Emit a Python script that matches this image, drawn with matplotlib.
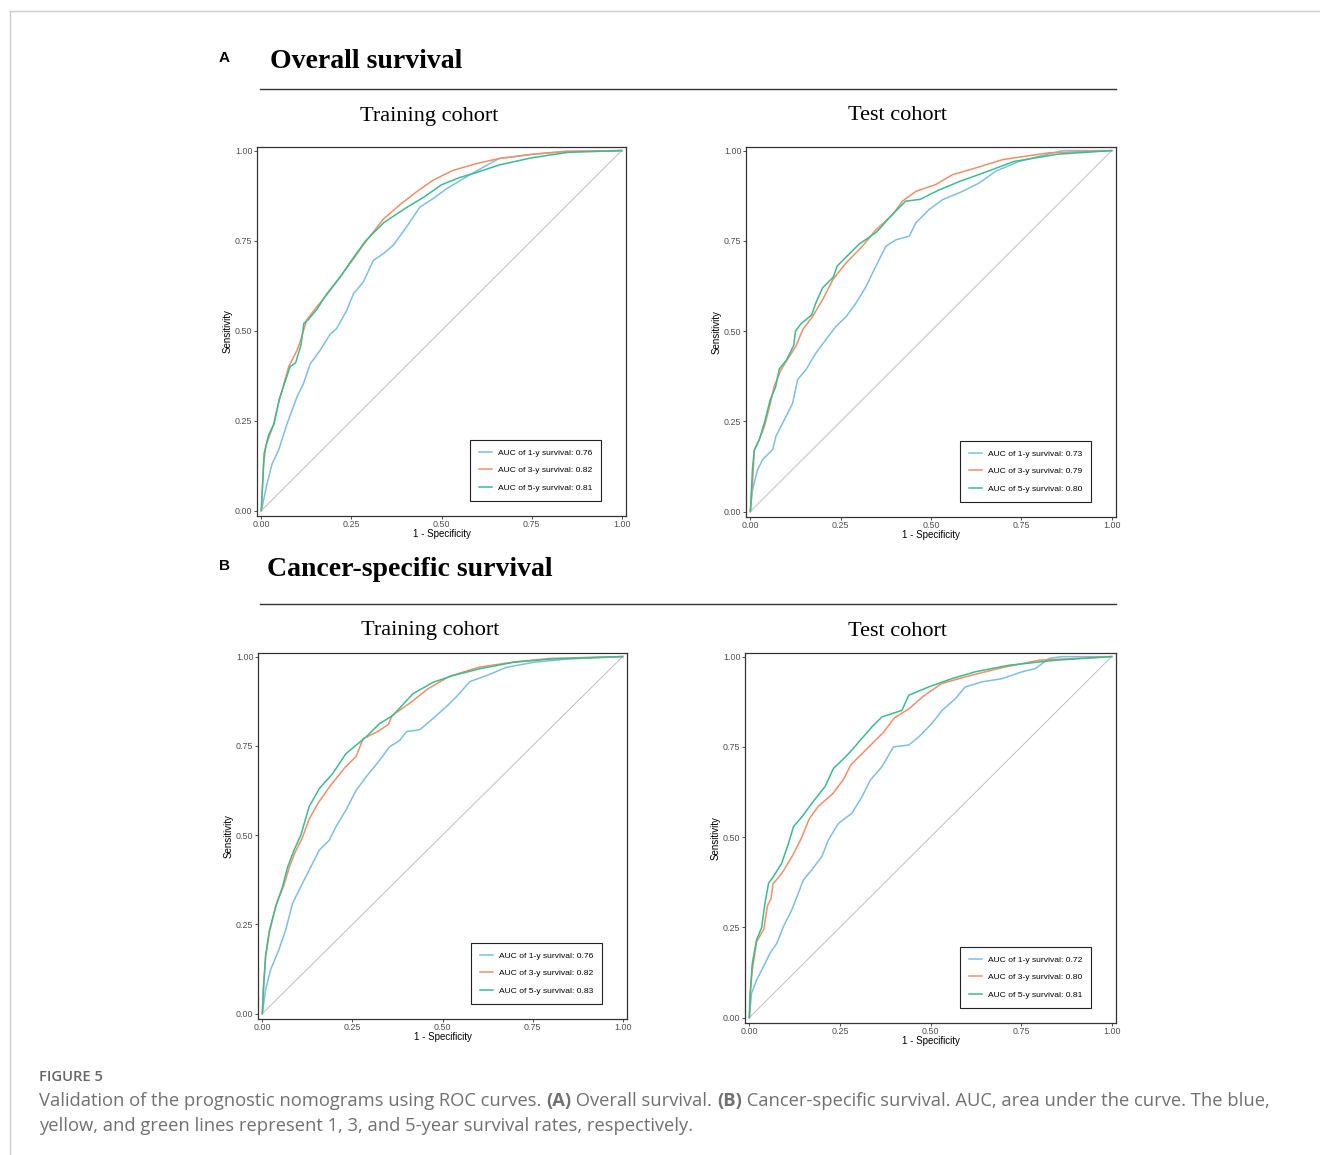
import matplotlib
matplotlib.use("Agg")
import matplotlib.pyplot as plt

# colours for 1-, 3- and 5-year curves
c1, c3, c5 = "#7EBFE0", "#F28E6B", "#3DBB8E"

# ---- A: overall survival, training cohort ----
osr_1y_x = [0, 0.016, 0.03, 0.048, 0.071, 0.099, 0.117, 0.136, 0.163, 0.191, 0.209, 0.237, 0.256, 0.283, 0.311, 0.339, 0.366, 0.403, 0.44, 0.477, 0.514, 0.569, 0.625, 0.66, 0.754, 0.85, 1]
osr_1y_y = [0, 0.075, 0.13, 0.168, 0.24, 0.316, 0.353, 0.408, 0.445, 0.49, 0.506, 0.556, 0.603, 0.635, 0.695, 0.714, 0.737, 0.788, 0.843, 0.867, 0.894, 0.927, 0.959, 0.978, 0.99, 0.998, 1]
osr_3y_x = [0, 0.006, 0.013, 0.02, 0.034, 0.048, 0.062, 0.076, 0.099, 0.108, 0.126, 0.154, 0.182, 0.219, 0.246, 0.292, 0.339, 0.385, 0.43, 0.477, 0.532, 0.597, 0.66, 0.754, 0.846, 1]
osr_3y_y = [0, 0.13, 0.18, 0.2, 0.24, 0.3, 0.35, 0.4, 0.445, 0.47, 0.53, 0.566, 0.6, 0.65, 0.686, 0.75, 0.81, 0.85, 0.885, 0.918, 0.945, 0.964, 0.978, 0.99, 0.998, 1]
osr_5y_x = [0, 0.008, 0.02, 0.035, 0.05, 0.07, 0.08, 0.095, 0.11, 0.118, 0.13, 0.155, 0.18, 0.22, 0.25, 0.29, 0.34, 0.4, 0.45, 0.5, 0.55, 0.6, 0.66, 0.75, 0.85, 1]
osr_5y_y = [0, 0.16, 0.21, 0.24, 0.31, 0.37, 0.4, 0.41, 0.46, 0.52, 0.53, 0.56, 0.6, 0.65, 0.695, 0.75, 0.8, 0.84, 0.87, 0.905, 0.925, 0.94, 0.96, 0.98, 0.995, 1]

# ---- A: overall survival, test cohort ----
ost_1y_x = [0, 0.006, 0.02, 0.034, 0.062, 0.071, 0.099, 0.117, 0.131, 0.154, 0.182, 0.209, 0.237, 0.265, 0.292, 0.32, 0.347, 0.375, 0.403, 0.44, 0.458, 0.495, 0.532, 0.587, 0.633, 0.679, 0.744, 0.799, 0.864, 1]
ost_1y_y = [0, 0.06, 0.116, 0.144, 0.172, 0.209, 0.264, 0.3, 0.366, 0.393, 0.44, 0.476, 0.513, 0.54, 0.577, 0.623, 0.679, 0.735, 0.753, 0.763, 0.8, 0.837, 0.864, 0.887, 0.91, 0.943, 0.97, 0.984, 1.0, 1]
ost_3y_x = [0, 0.006, 0.011, 0.025, 0.039, 0.053, 0.066, 0.085, 0.108, 0.126, 0.145, 0.172, 0.2, 0.228, 0.265, 0.31, 0.347, 0.394, 0.421, 0.458, 0.513, 0.559, 0.624, 0.698, 0.827, 1]
ost_3y_y = [0, 0.08, 0.17, 0.2, 0.236, 0.29, 0.347, 0.393, 0.43, 0.458, 0.504, 0.54, 0.587, 0.642, 0.689, 0.735, 0.78, 0.823, 0.86, 0.887, 0.906, 0.933, 0.952, 0.975, 0.994, 1]
ost_5y_x = [0, 0.006, 0.011, 0.025, 0.04, 0.055, 0.07, 0.08, 0.1, 0.12, 0.125, 0.14, 0.17, 0.18, 0.2, 0.23, 0.24, 0.27, 0.3, 0.35, 0.39, 0.43, 0.47, 0.52, 0.58, 0.65, 0.73, 0.85, 1]
ost_5y_y = [0, 0.12, 0.17, 0.2, 0.25, 0.31, 0.345, 0.395, 0.42, 0.46, 0.5, 0.52, 0.545, 0.575, 0.62, 0.65, 0.68, 0.71, 0.74, 0.775, 0.82, 0.86, 0.865, 0.89, 0.915, 0.94, 0.97, 0.99, 1]

# ---- B: cancer-specific survival, training cohort ----
csr_1y_x = [0, 0.009, 0.023, 0.046, 0.065, 0.084, 0.102, 0.13, 0.158, 0.186, 0.204, 0.232, 0.26, 0.288, 0.325, 0.353, 0.381, 0.4, 0.437, 0.474, 0.511, 0.539, 0.576, 0.623, 0.678, 0.753, 0.846, 1]
csr_1y_y = [0, 0.067, 0.123, 0.179, 0.235, 0.309, 0.346, 0.402, 0.458, 0.486, 0.523, 0.57, 0.625, 0.663, 0.709, 0.747, 0.765, 0.79, 0.795, 0.827, 0.86, 0.888, 0.93, 0.947, 0.97, 0.984, 0.993, 1]
csr_3y_x = [0, 0.003, 0.009, 0.02, 0.04, 0.06, 0.075, 0.09, 0.11, 0.13, 0.155, 0.19, 0.23, 0.26, 0.28, 0.32, 0.35, 0.36, 0.41, 0.46, 0.52, 0.6, 0.7, 0.8, 1]
csr_3y_y = [0, 0.07, 0.16, 0.23, 0.31, 0.36, 0.41, 0.45, 0.49, 0.545, 0.59, 0.64, 0.69, 0.72, 0.77, 0.79, 0.81, 0.835, 0.87, 0.91, 0.945, 0.97, 0.985, 0.995, 1]
csr_5y_x = [0, 0.003, 0.009, 0.019, 0.037, 0.056, 0.07, 0.088, 0.107, 0.13, 0.158, 0.195, 0.232, 0.288, 0.325, 0.362, 0.418, 0.474, 0.53, 0.604, 0.697, 0.799, 1]
csr_5y_y = [0, 0.067, 0.16, 0.23, 0.3, 0.355, 0.41, 0.458, 0.5, 0.58, 0.63, 0.672, 0.728, 0.775, 0.812, 0.835, 0.896, 0.928, 0.947, 0.966, 0.984, 0.993, 1]

# ---- B: cancer-specific survival, test cohort ----
cst_1y_x = [0, 0.006, 0.02, 0.039, 0.057, 0.076, 0.094, 0.117, 0.135, 0.149, 0.172, 0.2, 0.218, 0.246, 0.283, 0.311, 0.334, 0.366, 0.398, 0.44, 0.468, 0.504, 0.532, 0.569, 0.596, 0.642, 0.698, 0.753, 0.79, 0.827, 0.864, 1]
cst_1y_y = [0, 0.067, 0.104, 0.141, 0.178, 0.206, 0.252, 0.298, 0.344, 0.381, 0.409, 0.446, 0.492, 0.538, 0.566, 0.612, 0.658, 0.695, 0.75, 0.755, 0.778, 0.815, 0.851, 0.884, 0.916, 0.93, 0.939, 0.958, 0.967, 0.995, 1.0, 1]
cst_3y_x = [0, 0.002, 0.008, 0.02, 0.04, 0.05, 0.06, 0.065, 0.09, 0.12, 0.145, 0.165, 0.19, 0.23, 0.26, 0.28, 0.31, 0.34, 0.37, 0.4, 0.44, 0.48, 0.53, 0.6, 0.7, 0.8, 1]
cst_3y_y = [0, 0.06, 0.13, 0.21, 0.245, 0.31, 0.33, 0.37, 0.4, 0.45, 0.5, 0.55, 0.585, 0.62, 0.66, 0.7, 0.73, 0.76, 0.79, 0.83, 0.855, 0.89, 0.925, 0.945, 0.97, 0.99, 1]
cst_5y_x = [0, 0.002, 0.008, 0.02, 0.034, 0.043, 0.053, 0.066, 0.089, 0.108, 0.122, 0.145, 0.172, 0.209, 0.232, 0.265, 0.283, 0.306, 0.338, 0.366, 0.421, 0.44, 0.495, 0.559, 0.624, 0.716, 0.845, 1]
cst_5y_y = [0, 0.063, 0.15, 0.215, 0.25, 0.316, 0.372, 0.39, 0.427, 0.482, 0.529, 0.556, 0.593, 0.64, 0.69, 0.722, 0.741, 0.768, 0.805, 0.833, 0.851, 0.893, 0.916, 0.939, 0.958, 0.976, 0.99, 1]

auc_os_train = ["0.76", "0.82", "0.81"]
auc_os_test = ["0.73", "0.79", "0.80"]
auc_cs_train = ["0.76", "0.82", "0.83"]
auc_cs_test = ["0.72", "0.80", "0.81"]
years = ["1", "3", "5"]
ticks = [0, 0.25, 0.5, 0.75, 1.0]
tick_labels = ["0.00", "0.25", "0.50", "0.75", "1.00"]

W, H = 1320, 1155
fig = plt.figure(figsize=(W / 100, H / 100), dpi=100)


def fx(px):
    return px / W


def fy(py):
    return 1 - py / H


def roc_panel(rect, curves, aucs):
    ax = fig.add_axes(rect)
    ax.plot([0, 1], [0, 1], color="#BEBEBE", lw=0.7, zorder=1)
    for (xs, ys), col, yr, auc in zip(curves, [c1, c3, c5], years, aucs):
        ax.plot(xs, ys, color=col, lw=1.1, label=f"AUC of {yr}-y survival: {auc}", zorder=2)
    ax.set_xlim(-0.012, 1.012)
    ax.set_ylim(-0.015, 1.01)
    ax.set_xticks(ticks)
    ax.set_xticklabels(tick_labels)
    ax.set_yticks(ticks)
    ax.set_yticklabels(tick_labels)
    ax.tick_params(length=2.2, width=0.6, color="#333333", labelsize=6.4,
                   labelcolor="#4D4D4D", pad=1)
    for s in ax.spines.values():
        s.set_color("#333333")
        s.set_linewidth(0.9)
    ax.set_xlabel("1 - Specificity", fontsize=7, labelpad=0)
    ax.set_ylabel("Sensitivity", fontsize=7, labelpad=2)
    leg = ax.legend(loc="lower right", bbox_to_anchor=(0.932, 0.041), borderaxespad=0,
                    fontsize=6.1, handlelength=1.5, handletextpad=0.7, labelspacing=1.15,
                    borderpad=1.05, fancybox=False, framealpha=1, edgecolor="#222222")
    leg.get_frame().set_linewidth(0.8)
    return ax


plt.rcParams["font.family"] = ["Liberation Sans", "DejaVu Sans"]

roc_panel([fx(257), fy(516), fx(369), 369 / H],
          [(osr_1y_x, osr_1y_y), (osr_3y_x, osr_3y_y), (osr_5y_x, osr_5y_y)], auc_os_train)
roc_panel([fx(746), fy(517), fx(370), 370 / H],
          [(ost_1y_x, ost_1y_y), (ost_3y_x, ost_3y_y), (ost_5y_x, ost_5y_y)], auc_os_test)
roc_panel([fx(258), fy(1019), fx(369), 366 / H],
          [(csr_1y_x, csr_1y_y), (csr_3y_x, csr_3y_y), (csr_5y_x, csr_5y_y)], auc_cs_train)
roc_panel([fx(745), fy(1023), fx(371), 370 / H],
          [(cst_1y_x, cst_1y_y), (cst_3y_x, cst_3y_y), (cst_5y_x, cst_5y_y)], auc_cs_test)

serif = ["Liberation Serif", "DejaVu Serif"]

# section headers
for letter, title, y, xt in [("A", "Overall survival", 58, 270), ("B", "Cancer-specific survival", 566, 267)]:
    fig.text(fx(224), fy(y), letter, fontsize=11, fontweight="bold", ha="center", va="center",
             family=["Liberation Sans", "DejaVu Sans"])
    fig.text(fx(xt), fy(y + 3), title, fontsize=20, fontweight="bold", ha="left", va="center",
             family=serif)

for y in (89, 604):
    fig.add_artist(plt.Line2D([fx(260), fx(1116)], [fy(y), fy(y)], color="#333333", lw=1.0))

for y, xl, xr in [(113, 429, 897), (628, 430, 898)]:
    fig.text(fx(xl), fy(y + 3), "Training cohort", fontsize=16, ha="center", va="center", family=serif)
    fig.text(fx(xr), fy(y + 3), "Test cohort", fontsize=16, ha="center", va="center", family=serif)

# page border (top and left)
fig.add_artist(plt.Line2D([fx(10), 1], [fy(11), fy(11)], color="#CCCCCC", lw=1.0))
fig.add_artist(plt.Line2D([fx(10), fx(10)], [fy(11), 0], color="#CCCCCC", lw=1.0))

# caption
cap_font = ["Open Sans", "DejaVu Sans"]
cap_col = "#707070"
fig.text(fx(39), fy(1077), "FIGURE 5", fontsize=10.6, fontweight="semibold", color="#666666",
         ha="left", va="center", family=cap_font)

renderer = fig.canvas.get_renderer()


def draw_runs(x, y, runs, size=13.2):
    for s, wt in runs:
        t = fig.text(fx(x), fy(y), s, fontsize=size, fontweight=wt, color=cap_col,
                     ha="left", va="center", family=cap_font)
        x += t.get_window_extent(renderer).width


draw_runs(39, 1101, [("Validation of the prognostic nomograms using ROC curves. ", "normal"),
                     ("(A)", "bold"), (" Overall survival. ", "normal"),
                     ("(B)", "bold"),
                     (" Cancer-specific survival. AUC, area under the curve. The blue,", "normal")])
draw_runs(39, 1126, [("yellow, and green lines represent 1, 3, and 5-year survival rates, respectively.",
                      "normal")])

fig.savefig("out.png", dpi=100)
